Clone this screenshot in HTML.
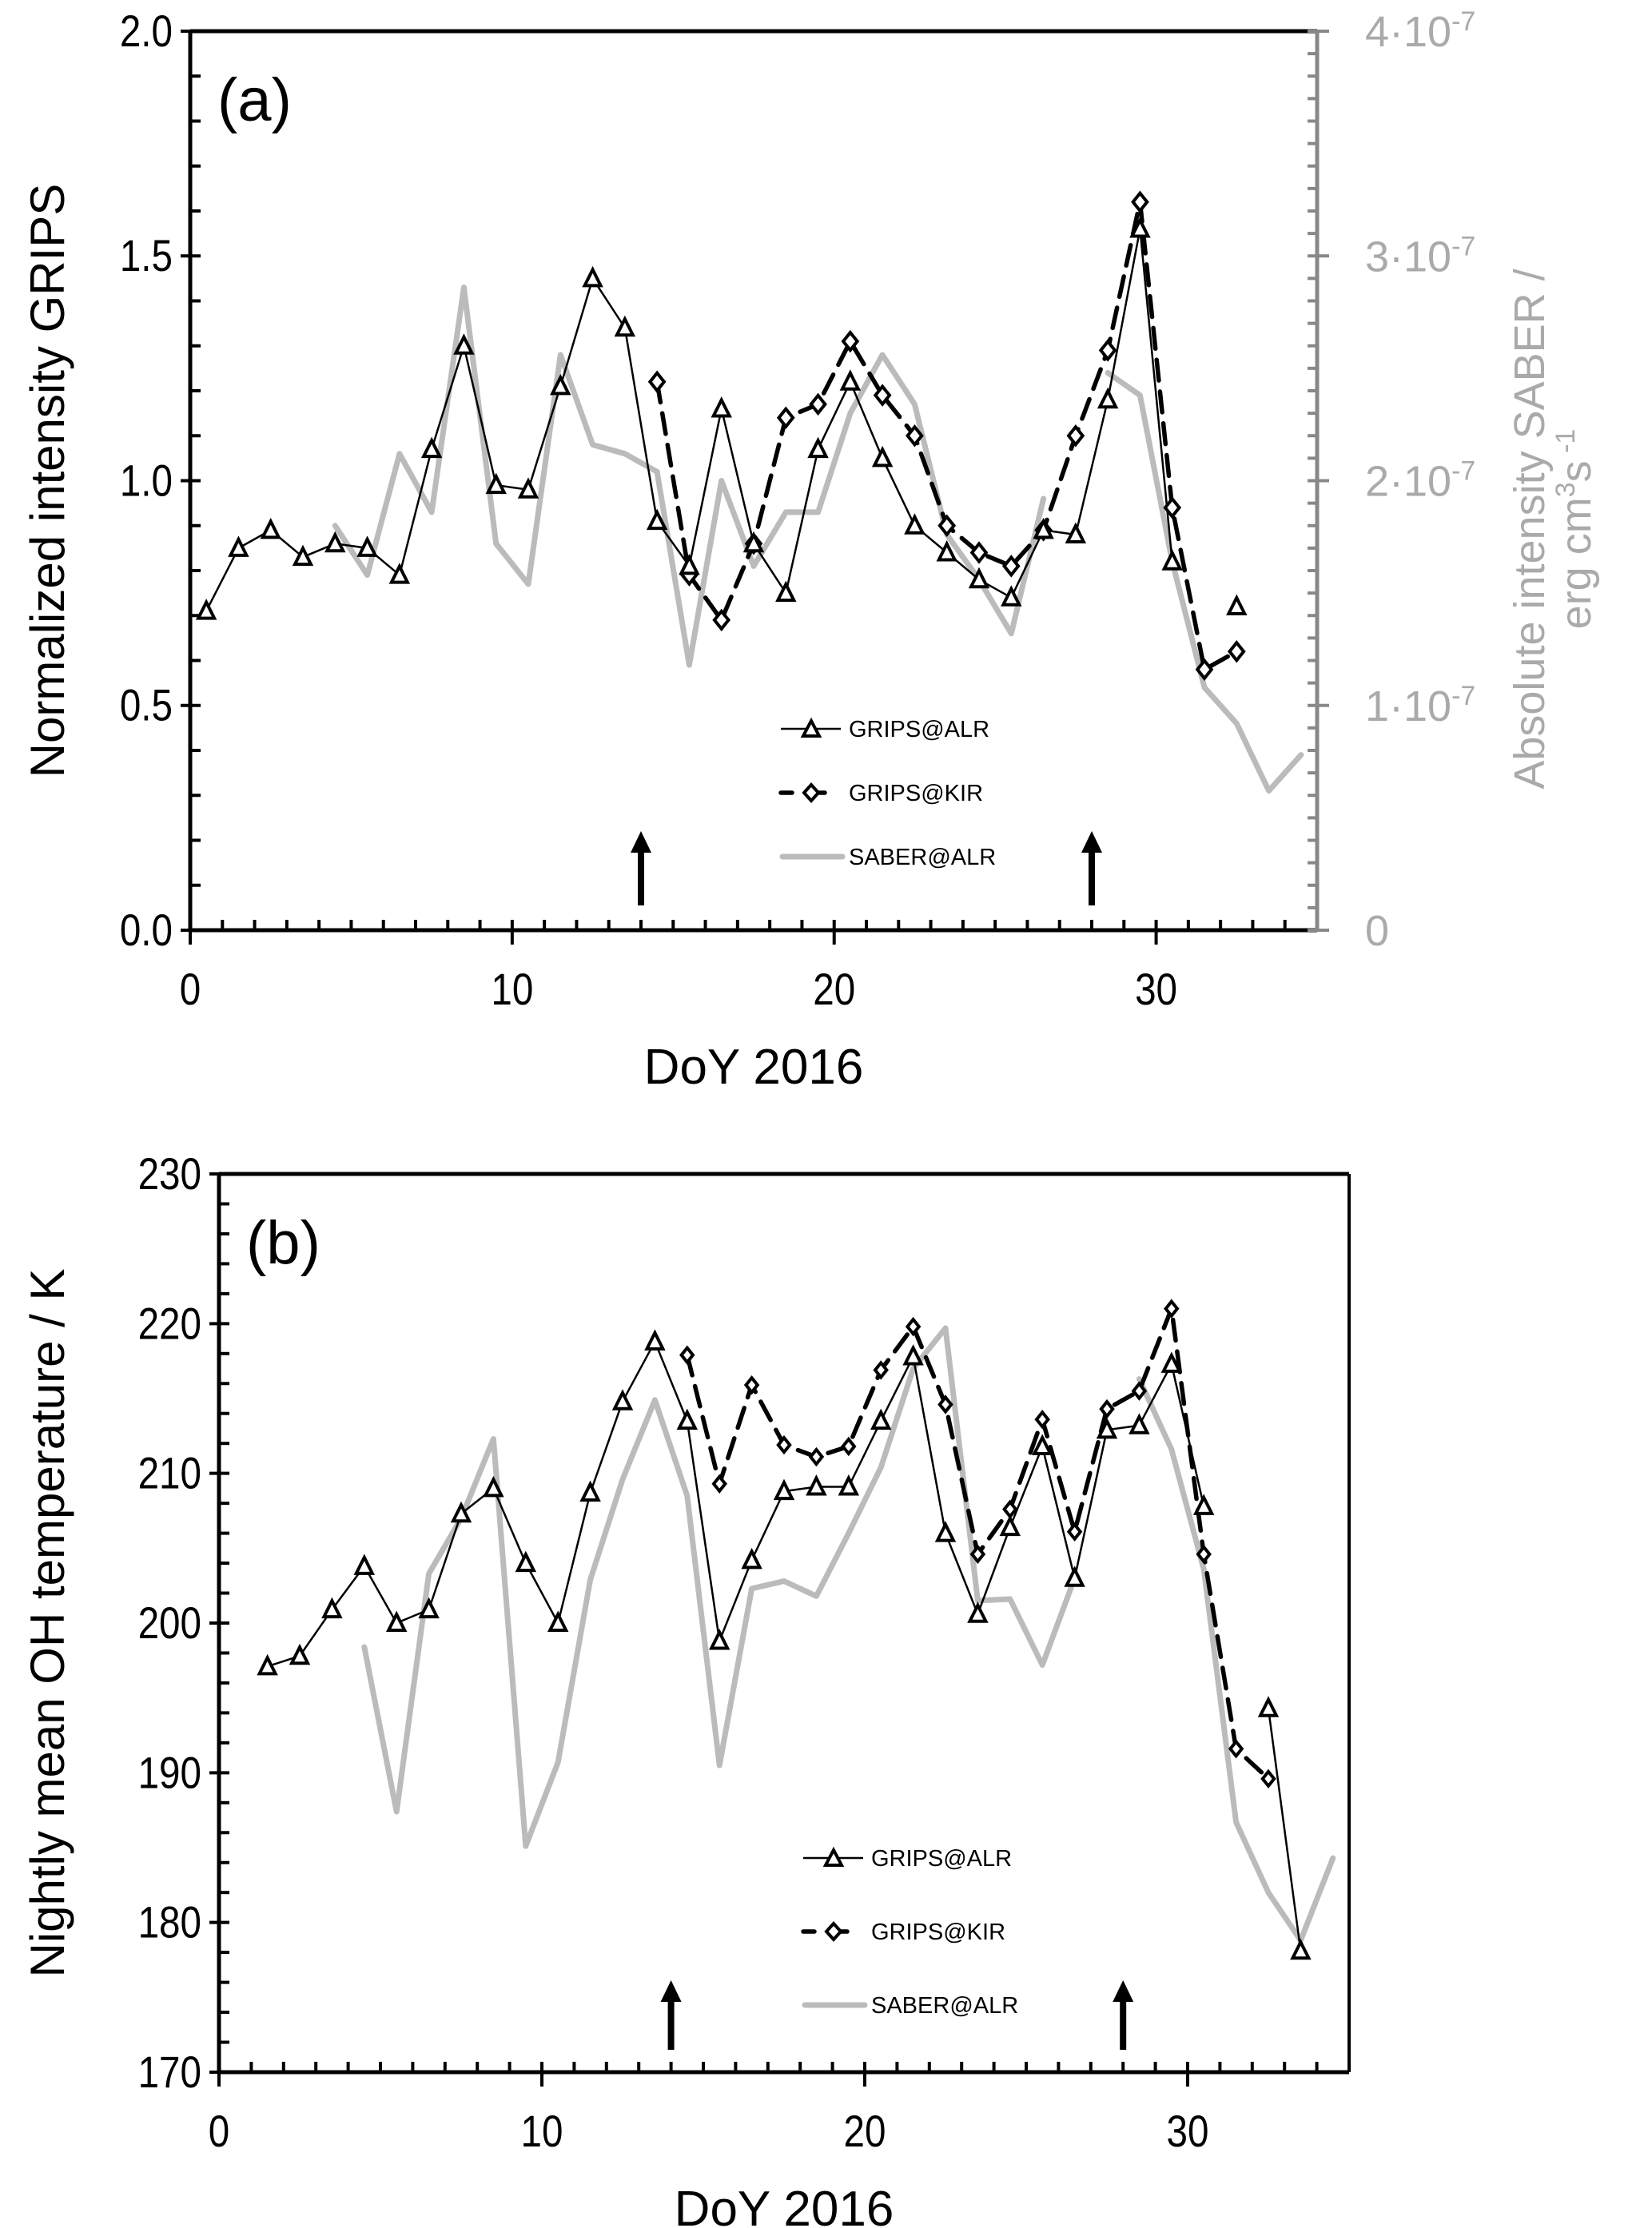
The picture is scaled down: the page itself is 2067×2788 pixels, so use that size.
<!DOCTYPE html>
<html><head><meta charset="utf-8"><style>
body{margin:0;background:#fff}
svg{display:block}
text{font-family:"Liberation Sans",sans-serif}
</style></head><body>
<svg id="fig" width="2067" height="2788" viewBox="0 0 2067 2788" xmlns="http://www.w3.org/2000/svg">
<g id="pa"></g>
<g id="pb"></g>
</svg>
<script>
const NS="http://www.w3.org/2000/svg";
// ---- data panel a ----
const daysA=[0.5,1.5,2.5,3.5,4.5,5.5,6.5,7.5,8.5,9.5,10.5,11.5,12.5,13.5,14.5,15.5,16.5,17.5,18.5,19.5,20.5,21.5,22.5,23.5,24.5,25.5,26.5,27.5,28.5,29.5,30.5,31.5,32.5,33.5,34.5];
const alrA=[0.71,0.85,0.89,0.83,0.86,0.85,0.79,1.07,1.30,0.99,0.98,1.21,1.45,1.34,0.91,0.81,1.16,0.86,0.75,1.07,1.22,1.05,0.90,0.84,0.78,0.74,0.89,0.88,1.18,1.56,0.82,null,0.72,null,null];
const kirA=[null,null,null,null,null,null,null,null,null,null,null,null,null,null,1.22,0.79,0.69,0.86,1.14,1.17,1.31,1.19,1.10,0.90,0.84,0.81,0.89,1.10,1.29,1.62,0.94,0.58,0.62,null,null];
const saberA=[null,null,null,null,1.80,1.58,2.12,1.86,2.86,1.72,1.54,2.56,2.16,2.12,2.04,1.18,2.00,1.62,1.86,1.86,2.30,2.56,2.34,1.76,1.56,1.32,1.92,null,2.48,2.38,1.64,1.08,0.92,0.62,0.78];
const yTicksA=["0.0","0.5","1.0","1.5","2.0"];
const yTicksA2=["0","1·10","2·10","3·10","4·10"];
// ---- data panel b ----
const daysB=daysA;
const alrB=[null,197.1,197.8,200.9,203.8,200.0,200.9,207.3,209.0,204.0,200.0,208.7,214.8,218.8,213.5,198.8,204.2,208.8,209.1,209.1,213.5,217.8,206.0,200.6,206.4,211.8,203.0,212.9,213.2,217.3,207.8,null,194.3,178.1,null];
const kirB=[null,null,null,null,null,null,null,null,null,null,null,null,null,null,217.9,209.3,215.9,211.9,211.1,211.8,216.9,219.8,214.6,204.6,207.6,213.6,206.1,214.3,215.5,221.0,204.6,191.6,189.6,null,null];
const saberB=[null,null,null,null,198.4,187.4,203.3,207.0,212.3,185.1,190.7,202.9,209.6,214.9,208.5,190.5,202.3,202.8,201.8,206.0,210.4,217.0,219.7,201.5,201.6,197.2,203.0,null,216.3,211.6,203.6,186.7,182.0,178.8,184.3];
const yTicksB=["170","180","190","200","210","220","230"];
const xTicks=["0","10","20","30"];
const arrowDays=[14,28];

function el(parent,tag,attrs,name,inter){const e=document.createElementNS(NS,tag);for(const k in attrs)e.setAttribute(k,attrs[k]);


parent.appendChild(e);return e;}
function txt(parent,x,y,s,size,fill,anchor,name,extra){const t=el(parent,'text',Object.assign({x:x,y:y,'font-size':size,fill:fill,'text-anchor':anchor||'middle'},extra||{}),name,false);t.textContent=s;return t;}

function panel(g,cfg){
  const X=d=>cfg.L+(d-0)*(cfg.R-cfg.L)/35;
  const Y=v=>cfg.B-(v-cfg.y0)*(cfg.B-cfg.T)/(cfg.y1-cfg.y0);
  el(g,'line',{x1:cfg.L,y1:cfg.T,x2:cfg.R,y2:cfg.T,stroke:'#000','stroke-width':5},'plot-top-border',false);
  if(!cfg.right) el(g,'line',{x1:cfg.R,y1:cfg.T,x2:cfg.R,y2:cfg.B,stroke:'#000','stroke-width':4},'plot-right-border',false);
  el(g,'line',{x1:cfg.L,y1:cfg.T-2,x2:cfg.L,y2:cfg.B+2,stroke:'#000','stroke-width':5},'y-axis-line',false);
  el(g,'line',{x1:cfg.L,y1:cfg.B,x2:cfg.R,y2:cfg.B,stroke:'#000','stroke-width':5},'x-axis-line',false);
  for(let d=1;d<=34;d++){const x=X(d);const maj=d%10==0;
    el(g,'line',{x1:x,y1:cfg.B-13,x2:x,y2:maj?cfg.B+18:cfg.B,stroke:'#000','stroke-width':4},'x-tick',false);}
  el(g,'line',{x1:cfg.L,y1:cfg.B,x2:cfg.L,y2:cfg.B+18,stroke:'#000','stroke-width':4},'x-tick',false);
  xTicks.forEach((s,i)=>txt(g,X(+s),cfg.B+93,s,56,'#000','middle','x-tick-label',{'transform':`translate(${X(+s)},0) scale(0.85,1) translate(${-X(+s)},0)`}));
  const nMin=cfg.minor;
  for(let v=cfg.y0;v<=cfg.y1+1e-9;v+=nMin){const y=Y(v);const maj=Math.abs(((v-cfg.y0)/cfg.major)-Math.round((v-cfg.y0)/cfg.major))<1e-6;
    el(g,'line',{x1:maj?cfg.L-12:cfg.L,y1:y,x2:cfg.L+13,y2:y,stroke:'#000','stroke-width':4},'y-tick',false);}
  cfg.yLabels.forEach((s,i)=>{const v=cfg.y0+i*cfg.major;txt(g,cfg.L-22,Y(v)+19,s,56,'#000','end','y-tick-label',{'transform':`translate(${cfg.L-22},0) scale(0.85,1) translate(${-(cfg.L-22)},0)`});});
  if(cfg.right){
    el(g,'line',{x1:cfg.R,y1:cfg.T,x2:cfg.R,y2:cfg.B+2,stroke:'#888','stroke-width':5},'right-axis-line',false);
    for(let k=0;k<=40;k++){const y=cfg.B-k*(cfg.B-cfg.T)/40;const maj=k%10==0;
      el(g,'line',{x1:cfg.R-12,y1:y,x2:maj?cfg.R+15:cfg.R,y2:y,stroke:'#888','stroke-width':4},'right-tick',false);}
    yTicksA2.forEach((s,i)=>{const y=cfg.B-i*(cfg.B-cfg.T)/4;
      const t=txt(g,1708,y+19,s,54,'#aaa','start','right-tick-label');
      if(i>0){const ts=el(t,'tspan',{dy:-20,'font-size':34},'exponent',false);ts.textContent='-7';}});
    const tg=el(g,'g',{transform:'translate(1932,662) rotate(-90)'},'right-axis-title',false);
    txt(tg,0,0,'Absolute intensity SABER /',54,'#aaa','middle','right-axis-title-line1');
    const t2=txt(tg,0,58,'erg cm',54,'#aaa','middle','right-axis-title-line2');
    let s=el(t2,'tspan',{dy:-20,'font-size':34},'superscript',false);s.textContent='3';
    s=el(t2,'tspan',{dy:20},'unit',false);s.textContent='s';
    s=el(t2,'tspan',{dy:-20,'font-size':34},'superscript',false);s.textContent=' -1';
  }
  txt(g,(cfg.L+cfg.R)/2,cfg.B+192,'DoY 2016',62,'#000','middle','x-axis-title');
  const yt=el(g,'g',{transform:`translate(${cfg.ytx},${(cfg.T+cfg.B)/2}) rotate(-90)`},'y-axis-title',false);
  txt(yt,0,0,cfg.ytitle,60,'#000','middle','y-axis-title-text');
  txt(g,cfg.L+34,cfg.T+112,cfg.tag,76,'#000','start','panel-label');
  function path(vals,conv,stroke,w,dash,name){let d='';let pen=false;
    vals.forEach((v,i)=>{if(v==null){pen=false;return;}d+=(pen?'L':'M')+X(daysA[i]).toFixed(1)+' '+conv(v).toFixed(1)+' ';pen=true;});
    const a={d:d,fill:'none',stroke:stroke,'stroke-width':w,'stroke-linejoin':'round','stroke-linecap':'round'};if(dash)a['stroke-dasharray']=dash;
    el(g,'path',a,name,false);}
  path(cfg.saber,cfg.sconv,'#bbb',7,null,'saber-line');
  path(cfg.kir,Y,'#000',5.5,'26 14','kir-line');
  path(cfg.alr,Y,'#000',2.5,null,'alr-line');
  cfg.kir.forEach((v,i)=>{if(v==null)return;const x=X(daysA[i]),y=Y(v);
    el(g,'path',{d:`M${x} ${y-cfg.ds} L${x+cfg.ds*0.8} ${y} L${x} ${y+cfg.ds} L${x-cfg.ds*0.8} ${y} Z`,fill:'#fff',stroke:'#000','stroke-width':4},'kir-marker',false);});
  cfg.alr.forEach((v,i)=>{if(v==null)return;const x=X(daysA[i]),y=Y(v);
    el(g,'path',{d:`M${x} ${y-11} L${x+10} ${y+9} L${x-10} ${y+9} Z`,fill:'#fff',stroke:'#000','stroke-width':4},'alr-marker',false);});
  arrowDays.forEach(d=>{const x=X(d);
    el(g,'line',{x1:x,y1:cfg.arB,x2:x,y2:cfg.arT+20,stroke:'#000','stroke-width':8},'event-arrow-shaft',false);
    el(g,'path',{d:`M${x} ${cfg.arT} L${x+13} ${cfg.arT+27} L${x-13} ${cfg.arT+27} Z`,fill:'#000'},'event-arrow-head',false);});
  const lg=el(g,'g',{},'legend',false);
  const lx=cfg.lx,ly=cfg.ly,dy=cfg.ldy;
  el(lg,'line',{x1:lx,y1:ly,x2:lx+75,y2:ly,stroke:'#000','stroke-width':2.5},'legend-alr-line',false);
  el(lg,'path',{d:`M${lx+38} ${ly-10} L${lx+48} ${ly+9} L${lx+28} ${ly+9} Z`,fill:'#fff',stroke:'#000','stroke-width':4},'legend-alr-marker',false);
  txt(lg,lx+85,ly+10,'GRIPS@ALR',29,'#000','start','legend-alr-label');
  el(lg,'line',{x1:lx,y1:ly+dy,x2:lx+67,y2:ly+dy,stroke:'#000','stroke-width':5.5,'stroke-dasharray':'14 27','stroke-linecap':'round'},'legend-kir-line',false);
  el(lg,'path',{d:`M${lx+38} ${ly+dy-10} L${lx+47} ${ly+dy} L${lx+38} ${ly+dy+10} L${lx+29} ${ly+dy} Z`,fill:'#fff',stroke:'#000','stroke-width':4},'legend-kir-marker',false);
  txt(lg,lx+85,ly+dy+10,'GRIPS@KIR',29,'#000','start','legend-kir-label');
  el(lg,'line',{x1:lx+2,y1:ly+2*dy,x2:lx+77,y2:ly+2*dy,stroke:'#bbb','stroke-width':7,'stroke-linecap':'round'},'legend-saber-line',false);
  txt(lg,lx+85,ly+2*dy+10,'SABER@ALR',29,'#000','start','legend-saber-label');
}
panel(document.getElementById('pa'),{L:238,R:1648,T:39,B:1164,y0:0,y1:2,major:0.5,minor:0.1,yLabels:yTicksA,right:true,
  alr:alrA,kir:kirA,saber:saberA,sconv:v=>1164-v*(1164-39)/4,ds:11,
  ytitle:'Normalized intensity GRIPS',ytx:80,tag:'(a)',arT:1040,arB:1133,lx:977,ly:912,ldy:80});
panel(document.getElementById('pb'),{L:274,R:1688,T:1469,B:2593,y0:170,y1:230,major:10,minor:2,yLabels:yTicksB,right:false,
  alr:alrB,kir:kirB,saber:saberB,sconv:v=>2593-(v-170)*(2593-1469)/60,ds:9,
  ytitle:'Nightly mean OH temperature / K',ytx:80,tag:'(b)',arT:2478,arB:2565,lx:1005,ly:2325,ldy:92});
</script>
</body></html>
